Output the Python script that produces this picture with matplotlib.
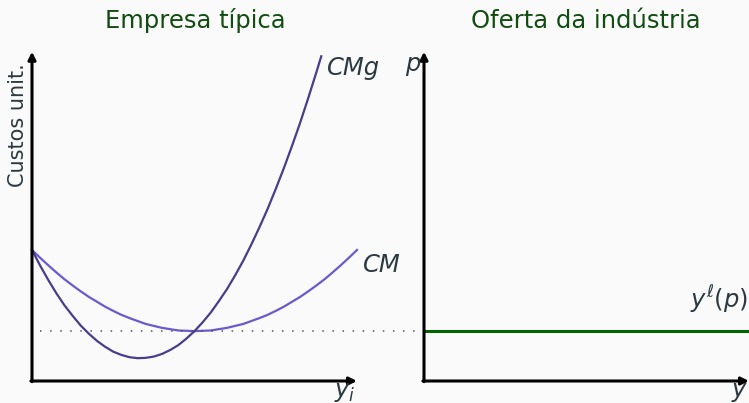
import matplotlib
matplotlib.use("Agg")
import matplotlib.pyplot as plt
import numpy as np

# ---- data ----
q_cm = np.arange(0, 10.001, 0.25)
cm = [4.02, 3.78, 3.55, 3.33, 3.12, 2.93, 2.75, 2.58, 2.43, 2.28, 2.15,
      2.03, 1.93, 1.84, 1.75, 1.69, 1.63, 1.59, 1.55, 1.54, 1.53,
      1.54, 1.55, 1.59, 1.63, 1.69, 1.75, 1.84, 1.93, 2.03, 2.15,
      2.28, 2.43, 2.58, 2.75, 2.93, 3.12, 3.33, 3.55, 3.78, 4.02]
q_cmg = list(np.arange(0, 8.751, 0.25)) + [8.9]
cmg = [4.02, 3.54, 3.10, 2.69, 2.32, 2.00, 1.70, 1.45, 1.23, 1.05, 0.90,
       0.80, 0.73, 0.70, 0.71, 0.75, 0.83, 0.95, 1.10, 1.30, 1.53,
       1.80, 2.10, 2.45, 2.82, 3.24, 3.69, 4.19, 4.72, 5.28, 5.89,
       6.53, 7.21, 7.92, 8.68, 9.47, 9.96]
titles = ["Empresa típica", "Oferta da indústria"]
ylabel_left = "Custos unit."

W, H = 749, 403
BG = "#fafafa"
TXT = "#2b3a42"
TITLE_C = "#114d11"
plt.rcParams["mathtext.fontset"] = "dejavusans"

fig = plt.figure(figsize=(W / 100, H / 100), dpi=100, facecolor=BG)

def box(x0, y0, x1, y1):
    return [x0 / W, 1 - y1 / H, (x1 - x0) / W, (y1 - y0) / H]

ax1 = fig.add_axes(box(32, 55, 357, 381))
ax2 = fig.add_axes(box(424, 55, 749, 381))
for ax in (ax1, ax2):
    ax.set_xlim(0, 10)
    ax.set_ylim(0, 10)
    ax.set_facecolor("none")
    for s in ax.spines.values():
        s.set_visible(False)
    ax.set_xticks([])
    ax.set_yticks([])
    ap = dict(arrowstyle="-|>", color="black", lw=2.2, mutation_scale=11,
              shrinkA=0, shrinkB=0)
    ax.annotate("", xy=(0, 10.1), xytext=(0, -0.02), arrowprops=ap,
                annotation_clip=False)
    ax.annotate("", xy=(10, 0), xytext=(-0.035, 0), arrowprops=ap,
                annotation_clip=False)

# curves
ax1.plot(q_cm, cm, color="#6a5acd", lw=1.6, clip_on=False)
ax1.plot(q_cmg, cmg, color="#483d8b", lw=1.6, clip_on=False)

# dotted line at min of CM, extending to the industry panel's axis
cm_min = min(cm)
x_end = ax1.transData.inverted().transform(ax2.transAxes.transform((0, 0)))[0]
ax1.plot([0.25, x_end], [cm_min, cm_min], color="#555555", lw=1.1,
         ls=(0, (1, 5.6)), clip_on=False)

# industry supply
ax2.plot([0, 10], [cm_min, cm_min], color="#006400", lw=2.2, clip_on=False,
         solid_capstyle="butt")

def ftext(x, y, s, **kw):
    fig.text(x / W, 1 - y / H, s, **kw)

# titles
ftext(195, 28, titles[0], ha="center", va="baseline", fontsize=17.5,
      color=TITLE_C)
ftext(586, 28, titles[1], ha="center", va="baseline", fontsize=17.5,
      color=TITLE_C)

# labels
ftext(18, 63, ylabel_left, rotation=90, ha="center", va="top", fontsize=15,
      color=TXT)
ftext(327, 75, "CMg", ha="left", va="baseline", fontsize=17.5, color=TXT,
      style="italic")
ftext(363, 272, "CM", ha="left", va="baseline", fontsize=17.5, color=TXT,
      style="italic")
ftext(421, 71, r"$p$", ha="right", va="baseline", fontsize=17.5, color=TXT)
ftext(334, 397, r"$y_i$", ha="left", va="baseline", fontsize=17.5, color=TXT)
ftext(731, 397, r"$y$", ha="left", va="baseline", fontsize=17.5, color=TXT)
ftext(748, 309, r"$y^{\ell}(p)$", ha="right", va="baseline", fontsize=17.5,
      color=TXT)

fig.savefig("out.png", dpi=100, facecolor=BG)
